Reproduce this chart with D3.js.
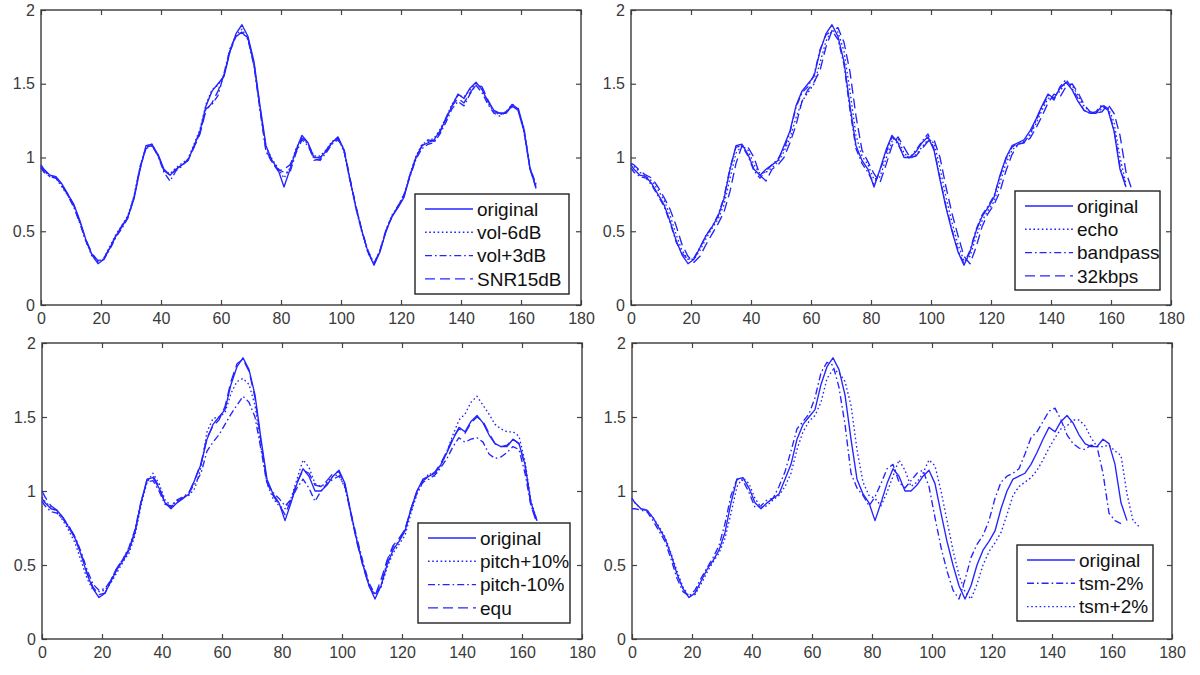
<!DOCTYPE html>
<html>
<head>
<meta charset="utf-8">
<script src="https://cdn.jsdelivr.net/npm/d3@7"></script>
<style>
  body { margin: 0; background: #fff; }
  text { font-family: 'Liberation Sans', Arial, sans-serif; }
  .tick text { font-size: 16px; fill: #3a3a3a; }
  .tick line { stroke: #444; stroke-width: 1.2; }
  .legend-label { font-size: 19px; fill: #111; }
</style>
</head>
<body>
<svg id="chart"></svg>
<script>
'use strict';

const chartWidth = 1200;
const chartHeight = 675;

// frame index on the x axis
const frames = [0, 1, 3, 5, 7, 9, 11, 13, 15, 17, 19, 21, 23, 25, 27, 29, 31, 33, 35, 37,
    39, 41, 43, 45, 47, 49, 51, 53, 55, 57, 59, 61, 63, 65, 67, 69, 71, 73, 75, 77,
    79, 81, 83, 85, 87, 89, 91, 93, 95, 97, 99, 101, 103, 105, 107, 109, 111, 113, 115, 117,
    119, 121, 123, 125, 127, 129, 131, 133, 135, 137, 139, 141, 143, 145, 147, 149, 151, 153, 155, 157,
    159, 161, 163, 165, 167, 169];

const xTicks = [0, 20, 40, 60, 80, 100, 120, 140, 160, 180];
const yTicks = [0, 0.5, 1, 1.5, 2];
const yTickLabels = ['0', '0.5', '1', '1.5', '2'];

const original = [0.95, 0.92, 0.88, 0.87, 0.82, 0.75, 0.68, 0.57, 0.44, 0.34,
    0.28, 0.31, 0.39, 0.47, 0.53, 0.60, 0.72, 0.92, 1.08, 1.09,
    1.02, 0.92, 0.88, 0.92, 0.95, 0.98, 1.08, 1.18, 1.35, 1.45,
    1.50, 1.55, 1.72, 1.84, 1.90, 1.82, 1.65, 1.35, 1.08, 0.98,
    0.92, 0.80, 0.92, 1.05, 1.15, 1.10, 1.00, 1.00, 1.04, 1.10,
    1.14, 1.05, 0.85, 0.66, 0.50, 0.36, 0.27, 0.36, 0.50, 0.60,
    0.66, 0.73, 0.88, 1.00, 1.08, 1.10, 1.12, 1.18, 1.26, 1.35,
    1.43, 1.40, 1.47, 1.51, 1.46, 1.38, 1.32, 1.30, 1.30, 1.35,
    1.32, 1.18, 0.92, 0.80];

const volMinus6 = [0.94, 0.91, 0.87, 0.86, 0.80, 0.74, 0.67, 0.56, 0.43, 0.33,
    0.29, 0.32, 0.40, 0.48, 0.54, 0.61, 0.74, 0.93, 1.07, 1.09,
    1.01, 0.91, 0.89, 0.93, 0.96, 0.99, 1.09, 1.19, 1.36, 1.46,
    1.49, 1.56, 1.73, 1.83, 1.87, 1.80, 1.64, 1.33, 1.07, 0.99,
    0.93, 0.86, 0.93, 1.06, 1.14, 1.09, 1.01, 1.01, 1.05, 1.11,
    1.13, 1.04, 0.84, 0.65, 0.49, 0.35, 0.28, 0.37, 0.51, 0.61,
    0.67, 0.74, 0.89, 1.01, 1.09, 1.11, 1.13, 1.19, 1.27, 1.36,
    1.42, 1.41, 1.46, 1.50, 1.47, 1.37, 1.31, 1.29, 1.31, 1.34,
    1.33, 1.17, 0.93, 0.81];

const volPlus3 = [0.93, 0.90, 0.87, 0.86, 0.81, 0.74, 0.66, 0.55, 0.43, 0.34,
    0.30, 0.31, 0.38, 0.46, 0.52, 0.59, 0.73, 0.94, 1.06, 1.08,
    1.01, 0.90, 0.84, 0.91, 0.94, 0.99, 1.07, 1.17, 1.33, 1.36,
    1.42, 1.57, 1.74, 1.82, 1.85, 1.80, 1.62, 1.32, 1.04, 0.97,
    0.92, 0.90, 0.90, 1.03, 1.12, 1.08, 0.99, 0.98, 1.03, 1.09,
    1.12, 1.06, 0.86, 0.67, 0.50, 0.37, 0.28, 0.37, 0.51, 0.60,
    0.67, 0.75, 0.87, 0.99, 1.06, 1.09, 1.10, 1.16, 1.24, 1.33,
    1.38, 1.35, 1.43, 1.49, 1.44, 1.36, 1.30, 1.28, 1.31, 1.36,
    1.33, 1.20, 0.93, 0.82];

const snr15 = [0.94, 0.91, 0.88, 0.86, 0.81, 0.75, 0.67, 0.56, 0.44, 0.35,
    0.30, 0.32, 0.39, 0.47, 0.54, 0.60, 0.73, 0.92, 1.07, 1.08,
    1.02, 0.91, 0.88, 0.92, 0.95, 0.98, 1.07, 1.16, 1.32, 1.37,
    1.45, 1.56, 1.72, 1.82, 1.85, 1.81, 1.63, 1.34, 1.05, 0.97,
    0.91, 0.92, 0.95, 1.04, 1.13, 1.10, 0.98, 0.99, 1.05, 1.10,
    1.13, 1.05, 0.85, 0.66, 0.50, 0.36, 0.28, 0.37, 0.50, 0.60,
    0.67, 0.74, 0.88, 1.00, 1.08, 1.12, 1.11, 1.17, 1.27, 1.35,
    1.40, 1.37, 1.44, 1.49, 1.48, 1.39, 1.31, 1.30, 1.30, 1.36,
    1.34, 1.19, 0.93, 0.79];

const echo = [0.96, 0.94, 0.90, 0.87, 0.84, 0.78, 0.71, 0.61, 0.48, 0.37,
    0.31, 0.31, 0.37, 0.45, 0.52, 0.58, 0.68, 0.86, 1.03, 1.08,
    1.05, 0.95, 0.89, 0.90, 0.93, 0.97, 1.04, 1.13, 1.27, 1.38,
    1.44, 1.50, 1.64, 1.79, 1.86, 1.85, 1.72, 1.45, 1.15, 1.01,
    0.95, 0.85, 0.87, 0.99, 1.11, 1.13, 1.03, 0.99, 1.02, 1.07,
    1.12, 1.10, 0.93, 0.73, 0.56, 0.41, 0.30, 0.33, 0.46, 0.57,
    0.64, 0.70, 0.83, 0.96, 1.05, 1.09, 1.11, 1.15, 1.23, 1.32,
    1.40, 1.41, 1.45, 1.51, 1.49, 1.42, 1.35, 1.31, 1.30, 1.33,
    1.34, 1.24, 1.00, 0.82];

const bandpass = [0.93, 0.90, 0.87, 0.86, 0.81, 0.74, 0.67, 0.56, 0.43, 0.35,
    0.31, 0.32, 0.39, 0.47, 0.53, 0.61, 0.73, 0.93, 1.07, 1.08,
    1.01, 0.91, 0.86, 0.91, 0.95, 0.99, 1.06, 1.17, 1.34, 1.44,
    1.48, 1.56, 1.73, 1.83, 1.86, 1.80, 1.63, 1.32, 1.06, 0.96,
    0.90, 0.82, 0.91, 1.03, 1.14, 1.09, 1.01, 1.00, 1.05, 1.11,
    1.16, 1.06, 0.86, 0.67, 0.51, 0.37, 0.28, 0.37, 0.51, 0.61,
    0.67, 0.74, 0.87, 0.99, 1.07, 1.10, 1.10, 1.16, 1.25, 1.34,
    1.42, 1.39, 1.48, 1.53, 1.47, 1.40, 1.32, 1.30, 1.31, 1.36,
    1.33, 1.19, 0.94, 0.80];

const kbps32 = [0.96, 0.95, 0.91, 0.88, 0.86, 0.80, 0.73, 0.65, 0.54, 0.41,
    0.33, 0.29, 0.33, 0.41, 0.48, 0.55, 0.63, 0.77, 0.96, 1.08,
    1.07, 1.00, 0.88, 0.84, 0.92, 0.95, 1.00, 1.10, 1.22, 1.38,
    1.46, 1.51, 1.59, 1.75, 1.86, 1.88, 1.78, 1.58, 1.28, 1.05,
    0.97, 0.89, 0.83, 0.95, 1.08, 1.14, 1.07, 1.00, 1.01, 1.06,
    1.11, 1.12, 1.00, 0.80, 0.62, 0.47, 0.33, 0.28, 0.39, 0.53,
    0.62, 0.68, 0.77, 0.91, 1.02, 1.09, 1.10, 1.13, 1.20, 1.28,
    1.37, 1.43, 1.41, 1.48, 1.50, 1.44, 1.36, 1.31, 1.30, 1.31,
    1.36, 1.30, 1.15, 0.90, 0.78];

const pitchUp = [0.96, 0.93, 0.89, 0.86, 0.80, 0.73, 0.65, 0.53, 0.41, 0.33,
    0.32, 0.33, 0.38, 0.45, 0.52, 0.58, 0.70, 0.90, 1.06, 1.12,
    1.05, 0.94, 0.90, 0.93, 0.96, 0.97, 1.02, 1.16, 1.40, 1.49,
    1.50, 1.53, 1.66, 1.74, 1.76, 1.72, 1.58, 1.30, 1.05, 0.95,
    0.90, 0.88, 0.95, 1.08, 1.21, 1.16, 1.05, 1.03, 1.06, 1.10,
    1.11, 1.02, 0.84, 0.66, 0.50, 0.37, 0.30, 0.35, 0.48, 0.58,
    0.64, 0.70, 0.85, 0.98, 1.06, 1.12, 1.10, 1.17, 1.27, 1.38,
    1.48, 1.52, 1.60, 1.64, 1.58, 1.52, 1.45, 1.42, 1.40, 1.40,
    1.37, 1.20, 0.93, 0.80];

const pitchDown = [0.93, 0.90, 0.86, 0.85, 0.81, 0.76, 0.69, 0.59, 0.47, 0.37,
    0.33, 0.34, 0.40, 0.48, 0.54, 0.62, 0.74, 0.93, 1.06, 1.07,
    1.00, 0.91, 0.90, 0.94, 0.96, 0.99, 1.05, 1.12, 1.27, 1.33,
    1.38, 1.45, 1.52, 1.58, 1.64, 1.60, 1.50, 1.28, 1.05, 0.99,
    0.95, 0.90, 0.94, 1.02, 1.08, 1.02, 0.93, 1.00, 1.05, 1.08,
    1.10, 1.03, 0.85, 0.68, 0.52, 0.38, 0.30, 0.36, 0.52, 0.62,
    0.66, 0.74, 0.87, 0.99, 1.06, 1.08, 1.11, 1.16, 1.22, 1.30,
    1.36, 1.33, 1.35, 1.36, 1.33, 1.25, 1.22, 1.23, 1.26, 1.30,
    1.28, 1.12, 0.90, 0.80];

const equ = [1.00, 0.96, 0.90, 0.87, 0.82, 0.76, 0.69, 0.58, 0.45, 0.35,
    0.30, 0.31, 0.40, 0.48, 0.54, 0.61, 0.73, 0.92, 1.07, 1.10,
    1.03, 0.92, 0.89, 0.93, 0.95, 0.99, 1.08, 1.19, 1.36, 1.44,
    1.48, 1.57, 1.74, 1.86, 1.89, 1.81, 1.63, 1.33, 1.06, 0.97,
    0.91, 0.84, 0.94, 1.06, 1.14, 1.12, 1.04, 1.03, 1.07, 1.12,
    1.13, 1.04, 0.84, 0.65, 0.49, 0.36, 0.29, 0.40, 0.53, 0.63,
    0.68, 0.74, 0.88, 1.00, 1.07, 1.10, 1.13, 1.19, 1.27, 1.36,
    1.42, 1.39, 1.46, 1.50, 1.47, 1.39, 1.32, 1.30, 1.31, 1.35,
    1.32, 1.17, 0.90, 0.78];

const tsmMinus2 = [0.88, 0.88, 0.87, 0.86, 0.80, 0.73, 0.66, 0.54, 0.41, 0.32,
    0.29, 0.33, 0.41, 0.48, 0.55, 0.63, 0.78, 0.97, 1.08, 1.07,
    0.99, 0.89, 0.90, 0.94, 0.95, 1.03, 1.13, 1.27, 1.42, 1.47,
    1.52, 1.63, 1.80, 1.87, 1.85, 1.70, 1.45, 1.12, 1.02, 0.97,
    0.90, 0.96, 1.05, 1.15, 1.18, 1.06, 1.02, 1.07, 1.12, 1.14,
    1.03, 0.82, 0.62, 0.46, 0.33, 0.27, 0.40, 0.55, 0.64, 0.70,
    0.80, 0.95, 1.06, 1.10, 1.12, 1.15, 1.25, 1.36, 1.40, 1.47,
    1.54, 1.56, 1.48, 1.38, 1.32, 1.29, 1.28, 1.31, 1.30, 1.12,
    0.85, 0.80, 0.78];

const tsmPlus2 = [0.95, 0.92, 0.88, 0.87, 0.82, 0.76, 0.69, 0.58, 0.46, 0.35,
    0.29, 0.30, 0.37, 0.45, 0.52, 0.58, 0.68, 0.85, 1.03, 1.09,
    1.05, 0.95, 0.89, 0.90, 0.94, 0.97, 1.03, 1.12, 1.28, 1.40,
    1.47, 1.51, 1.60, 1.76, 1.82, 1.80, 1.74, 1.58, 1.28, 1.06,
    0.97, 0.95, 0.90, 0.99, 1.10, 1.21, 1.14, 1.03, 1.06, 1.12,
    1.21, 1.17, 1.00, 0.80, 0.60, 0.43, 0.32, 0.27, 0.37, 0.50,
    0.59, 0.65, 0.72, 0.84, 0.97, 1.03, 1.06, 1.09, 1.14, 1.21,
    1.29, 1.36, 1.42, 1.44, 1.48, 1.48, 1.44, 1.36, 1.30, 1.30,
    1.31, 1.27, 1.24, 0.98, 0.80, 0.76];

const labelsA = ['original', 'vol-6dB', 'vol+3dB', 'SNR15dB'];
const labelsB = ['original', 'echo', 'bandpass', '32kbps'];
const labelsC = ['original', 'pitch+10%', 'pitch-10%', 'equ'];
const labelsD = ['original', 'tsm-2%', 'tsm+2%'];

const lineColor = '#2424ff';
const dashes = {
    solid: null,
    dotted: '1.6,2.6',
    dashdot: '7,3,1.6,3',
    dashed: '10,5'
};

const panels = [
    {
        box: {x: 41, y: 10, w: 540, h: 295},
        legend: {x: 415, y: 194, w: 154, h: 100},
        labels: labelsA,
        series: [original, volMinus6, volPlus3, snr15],
        styles: ['solid', 'dotted', 'dashdot', 'dashed']
    },
    {
        box: {x: 631, y: 10, w: 540, h: 295},
        legend: {x: 1015, y: 191, w: 145, h: 99},
        labels: labelsB,
        series: [original, echo, bandpass, kbps32],
        styles: ['solid', 'dotted', 'dashdot', 'dashed']
    },
    {
        box: {x: 42, y: 343, w: 540, h: 296},
        legend: {x: 418, y: 523, w: 152, h: 100},
        labels: labelsC,
        series: [original, pitchUp, pitchDown, equ],
        styles: ['solid', 'dotted', 'dashdot', 'dashed']
    },
    {
        box: {x: 632, y: 343, w: 540, h: 296},
        legend: {x: 1017, y: 545, w: 136, h: 76},
        labels: labelsD,
        series: [original, tsmMinus2, tsmPlus2],
        styles: ['solid', 'dashdot', 'dotted']
    }
];

const svg = d3.select('#chart')
    .attr('width', chartWidth)
    .attr('height', chartHeight);

function renderAxes(g, xScale, yScale, box) {
    const tick = 5;

    g.append('g')
        .attr('transform', `translate(0, ${box.h})`)
        .call(d3.axisBottom(xScale).tickValues(xTicks).tickSize(-tick).tickPadding(8).tickFormat(d => d));

    g.append('g')
        .call(d3.axisTop(xScale).tickValues(xTicks).tickSize(-tick).tickFormat(''));

    g.append('g')
        .call(d3.axisLeft(yScale).tickValues(yTicks).tickSize(-tick).tickPadding(6)
            .tickFormat((d, i) => yTickLabels[i]));

    g.append('g')
        .attr('transform', `translate(${box.w}, 0)`)
        .call(d3.axisRight(yScale).tickValues(yTicks).tickSize(-tick).tickFormat(''));

    g.selectAll('.domain').remove();
    g.selectAll('.tick text').attr('font-family', null).attr('font-size', null);

    g.append('rect')
        .attr('width', box.w)
        .attr('height', box.h)
        .attr('fill', 'none')
        .attr('stroke', '#3a3a3a')
        .attr('stroke-width', 1.4);
}

function renderLegend(panel) {
    const {legend, labels, styles} = panel;
    const rowStep = 23.3;
    const g = svg.append('g').attr('transform', `translate(${legend.x}, ${legend.y})`);

    g.append('rect')
        .attr('width', legend.w)
        .attr('height', legend.h)
        .attr('fill', '#fff')
        .attr('stroke', '#222')
        .attr('stroke-width', 1.4);

    labels.forEach((label, i) => {
        const cy = 15 + i * rowStep;
        g.append('line')
            .attr('x1', 10).attr('x2', 58)
            .attr('y1', cy).attr('y2', cy)
            .attr('stroke', lineColor)
            .attr('stroke-width', 1.4)
            .attr('stroke-dasharray', dashes[styles[i]]);
        g.append('text')
            .attr('class', 'legend-label')
            .attr('x', 62)
            .attr('y', cy)
            .attr('dy', '0.35em')
            .text(label);
    });
}

function renderPanel(panel) {
    const {box} = panel;
    const xScale = d3.scaleLinear().domain([0, 180]).range([0, box.w]);
    const yScale = d3.scaleLinear().domain([0, 2]).range([box.h, 0]);
    const g = svg.append('g').attr('transform', `translate(${box.x}, ${box.y})`);

    renderAxes(g, xScale, yScale, box);

    const line = d3.line()
        .x(d => xScale(d[0]))
        .y(d => yScale(d[1]));

    panel.series.forEach((values, i) => {
        const points = values.map((v, k) => [frames[k], v]);
        g.append('path')
            .datum(points)
            .attr('d', line)
            .attr('fill', 'none')
            .attr('stroke', lineColor)
            .attr('stroke-width', 1.35)
            .attr('stroke-linejoin', 'round')
            .attr('stroke-dasharray', dashes[panel.styles[i]]);
    });

    renderLegend(panel);
}

panels.forEach(renderPanel);
</script>
</body>
</html>
